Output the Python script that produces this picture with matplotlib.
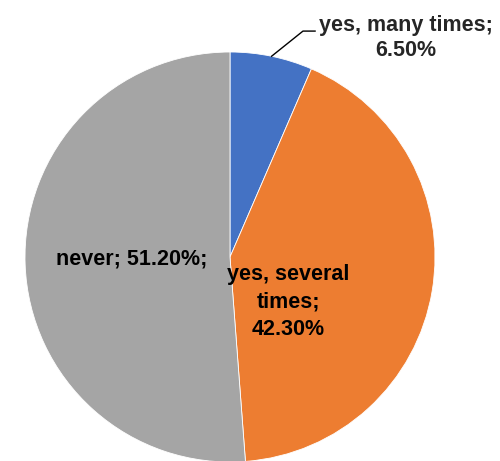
import numpy as np
import matplotlib
matplotlib.use('Agg')
import matplotlib.pyplot as plt

labels = ['yes, many times', 'yes, several times', 'never']
shares = [6.5, 42.3, 51.2]
colors = ['#4472C4', '#ED7D31', '#A5A5A5']

font = ['Liberation Sans Narrow', 'Liberation Sans', 'DejaVu Sans']

fig = plt.figure(figsize=(5, 4.61), dpi=100)
ax = fig.add_axes([0, 0, 1, 1])
ax.pie(shares, colors=colors, startangle=90, counterclock=False, radius=1,
       wedgeprops=dict(edgecolor='white', linewidth=0.6))
ax.set_xlim(-230 / 205, 270 / 205)
ax.set_ylim(-204 / 205, 257 / 205)
ax.set_aspect('equal')
ax.axis('off')

# leader line for the small slice, from the middle of its arc
ang = np.deg2rad(90 - 360 * shares[0] / 100 * 0.5)
x0, y0 = np.cos(ang), np.sin(ang)
ax.plot([x0, 0.356, 0.415], [y0, 1.102, 1.102], color='black', lw=1)
ax.text(0.86, 1.068, 'yes, many times;\n6.50%', ha='center', va='center',
        fontsize=15.5, fontweight='bold', family=font, color='#262626', linespacing=1.3)

ax.text(0.283, -0.22, 'yes, several\ntimes;\n42.30%', ha='center', va='center',
        fontsize=15.5, fontweight='bold', family=font, color='black', linespacing=1.4)
ax.text(-0.478, -0.01, 'never; 51.20%;', ha='center', va='center',
        fontsize=15.5, fontweight='bold', family=font, color='black')

fig.savefig('out.png', dpi=100)
